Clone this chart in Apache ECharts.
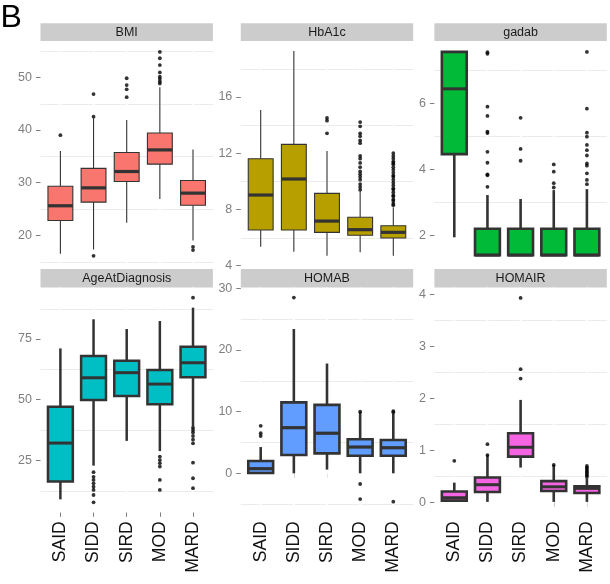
<!DOCTYPE html>
<html><head><meta charset="utf-8">
<script src="https://cdn.jsdelivr.net/npm/echarts@6/dist/echarts.min.js"></script>
<style>html,body{margin:0;padding:0;background:#fff}#c{width:610px;height:584px}</style>
</head><body><div id="c"></div><script>
const categories = ['SAID','SIDD','SIRD','MOD','MARD'];
const panelTitles = ['BMI','HbA1c','gadab','AgeAtDiagnosis','HOMAB','HOMAIR'];
const fillColors = ['#F8766D','#B79F00','#00BA38','#00BFC4','#619CFF','#F564E3'];

// box stats per category: [lower whisker, Q1, median, Q3, upper whisker]
const bmiBox = [[16.5,22.8,25.6,29.3,36.0],[17.3,26.3,29.0,32.7,42.2],[22.4,30.2,32.1,35.7,41.9],[26.9,33.5,36.2,39.4,48.1],[19.0,25.7,28.0,30.4,36.3]];
const bmiOut = [[39.0],[46.8,42.5,16.1],[49.8,48.5,47.7,46.2],[54.8,53.6,52.3,50.9,50.1,49.7,49.2,48.8],[17.8,17.2]];

const hba1cBox = [[5.35,6.54,9.02,11.6,15.06],[5.0,6.54,10.16,12.62,19.25],[4.71,6.37,7.17,9.14,12.15],[4.95,6.16,6.56,7.44,9.33],[4.71,5.97,6.37,6.84,8.15]];
const hba1cOut = [[],[],[14.5,14.3,13.4],[14.2,13.9,13.4,13.2,12.9,12.7,11.8,11.6,11.3,11.0,10.7,10.5,10.3,10.1,9.8,9.6,9.4],[12.0,11.8,11.6,11.4,11.3,11.2,11.0,10.8,10.6,10.4,10.3,10.1,9.9,9.7,9.5,9.4,9.2,9.0,8.9,8.7,8.6,8.4,8.3]];

const gadabBox = [[1.94,4.46,6.44,7.56,7.56],[1.40,1.40,1.40,2.20,3.22],[1.40,1.40,1.40,2.20,3.10],[1.40,1.40,1.40,2.20,3.37],[1.40,1.40,1.40,2.20,3.40]];
const gadabOut = [[],[7.55,7.5,5.9,5.62,5.14,5.1,4.53,4.2,3.85,3.82,3.47],[5.56,4.62,4.26],[4.15,3.93,3.58,3.45],[7.56,5.84,5.11,4.99,4.74,4.58,4.42,4.18,4.11,3.88,3.68,3.55]];

const ageBox = [[8.9,16.3,32.1,47.1,71.1],[22.8,49.8,59.0,68.0,83.1],[33.0,51.5,61.1,66.0,79.1],[28.8,48.1,56.4,62.2,82.4],[39.1,59.2,65.2,71.8,87.9]];
const ageOut = [[],[20.1,18.2,16.9,15.5,14.1,12.8,10.7,7.7],[],[26.5,25.1,23.8,22.4,16.9,12.8],[92.0,38.5,37.5,36.5,35.0,33.5,32.0,24.0,17.6,13.5]];

const homabBox = [[0,0.05,0.75,2.0,4.26],[0,2.97,7.4,11.5,23.4],[0.6,3.24,6.5,11.1,17.8],[0,2.86,4.26,5.53,10.0],[0,2.86,4.15,5.4,9.7]];
const homabOut = [[7.7,6.5,6.05],[28.5],[],[10.0,-1.73,-4.17],[10.1,9.9,-4.6]];

const homairBox = [[0.01,0.035,0.09,0.21,0.38],[0.01,0.2,0.34,0.48,0.91],[0.67,0.88,1.06,1.33,1.97],[0.01,0.22,0.30,0.41,0.72],[0.01,0.18,0.27,0.31,0.46]];
const homairOut = [[0.8],[1.12,0.91],[3.93,2.56,2.38],[0.72],[0.70,0.67,0.64,0.61,0.58,0.55,0.52,0.49]];

const boxes = [bmiBox, hba1cBox, gadabBox, ageBox, homabBox, homairBox];
const outliers = [bmiOut, hba1cOut, gadabOut, ageOut, homabOut, homairOut];

// axis limits and tick labels
const yMin = [14.17, 3.98, 1.07, 3.57, -6.32, -0.19];
const yMax = [56.87, 19.96, 7.89, 96.2, 30.13, 4.13];
const yTicks = [[20,30,40,50],[4,8,12,16],[2,4,6],[25,50,75],[0,10,20,30],[0,1,2,3,4]];
const yMinor = [[15,25,35,45,55],[6,10,14,18],[3,5,7],[12.5,37.5,62.5,87.5],[-5,5,15,25],[0.5,1.5,2.5,3.5]];
const xTicks = [1,2,3,4,5];

// layout / style
const panelLeft = [40.5, 240.8, 434.4];
const panelWidth = 172.4;
const rowTop = [41, 287.5];
const rowHeight = [225, 224.8];
const stripTop = [23.3, 269];
const stripH = [17.7, 18.5];
const borderW = [1.1, 1.1, 2.6, 2.5, 2.6, 2.6];
const medianW = [3.2, 3.2, 3, 3, 3.2, 3];
const FONT = 'Liberation Sans, Arial, sans-serif';

const grids = [], xAxes = [], yAxes = [], series = [], graphics = [];
graphics.push({type:'text', x:0.5, y:18, style:{text:'B', fontSize:32, fontFamily:FONT, fill:'#000', verticalAlign:'middle'}});

for (let i = 0; i < 6; i++) {
  const col = i % 3, row = Math.floor(i / 3);
  grids.push({left: panelLeft[col], top: rowTop[row], width: panelWidth, height: rowHeight[row]});
  xAxes.push({
    gridIndex: i, type: 'value', min: 0.4, max: 5.6,
    axisLine: {show: false}, splitLine: {show: false},
    axisTick: {show: row === 1, customValues: xTicks, length: 4.5, lineStyle: {color: '#7f7f7f'}},
    axisLabel: {show: row === 1, customValues: xTicks, rotate: 90, margin: 9, fontSize: 17.5, color: '#111', fontFamily: FONT,
      formatter: v => categories[Math.round(v) - 1]}
  });
  yAxes.push({
    gridIndex: i, type: 'value', min: yMin[i], max: yMax[i],
    axisLine: {show: false}, splitLine: {show: false},
    axisTick: {show: true, customValues: yTicks[i], length: 4.5, lineStyle: {color: '#7f7f7f'}},
    axisLabel: {customValues: yTicks[i], margin: 8.5, fontSize: 12.5, color: '#7f7f7f', fontFamily: FONT}
  });
  // strip
  graphics.push({type:'rect', shape:{x: panelLeft[col], y: stripTop[row], width: panelWidth, height: stripH[row]}, style:{fill:'#CCCCCC'}});
  graphics.push({type:'text', x: panelLeft[col] + panelWidth / 2, y: stripTop[row] + stripH[row] / 2 + 0.5,
    style:{text: panelTitles[i], fontSize: 12.5, fontFamily: FONT, fill: '#1a1a1a', align:'center', verticalAlign:'middle'}});

  // horizontal minor gridlines
  series.push({
    type: 'custom', xAxisIndex: i, yAxisIndex: i, z: 1, silent: true,
    data: yMinor[i].map(v => [v]), encode: {y: 0},
    renderItem: (params, api) => {
      const cs = params.coordSys;
      const y = Math.round(api.coord([1, api.value(0)])[1]) + 0.5;
      return {type: 'line', shape: {x1: cs.x, y1: y, x2: cs.x + cs.width, y2: y}, style: {stroke: '#EBEBEB', lineWidth: 1}};
    }
  });
  // white vertical major gridlines
  series.push({
    type: 'custom', xAxisIndex: i, yAxisIndex: i, z: 1, silent: true,
    data: xTicks.map(v => [v]), encode: {x: 0},
    renderItem: (params, api) => {
      const cs = params.coordSys;
      const x = api.coord([api.value(0), yMin[i]])[0];
      return {type: 'line', z2: 5, shape: {x1: x, y1: cs.y, x2: x, y2: cs.y + cs.height}, style: {stroke: '#FFFFFF', lineWidth: 1.6}};
    }
  });
  // boxes
  const bw = borderW[i], mw = medianW[i], fill = fillColors[i];
  series.push({
    type: 'custom', xAxisIndex: i, yAxisIndex: i, z: 2, silent: true,
    data: boxes[i].map((s, k) => [k + 1].concat(s)),
    encode: {x: 0, y: [1, 2, 3, 4, 5]},
    renderItem: (params, api) => {
      const x = api.value(0);
      const lo = api.coord([x, api.value(1)]);
      const q1 = api.coord([x, api.value(2)]);
      const md = api.coord([x, api.value(3)]);
      const q3 = api.coord([x, api.value(4)]);
      const hi = api.coord([x, api.value(5)]);
      const half = api.size([0.75, 0])[0] / 2;
      const st = {stroke: '#333333', lineWidth: bw};
      return {type: 'group', children: [
        {type: 'line', shape: {x1: lo[0], y1: lo[1], x2: q1[0], y2: q1[1]}, style: st},
        {type: 'line', shape: {x1: hi[0], y1: hi[1], x2: q3[0], y2: q3[1]}, style: st},
        {type: 'rect', shape: {x: q3[0] - half, y: q3[1], width: 2 * half, height: q1[1] - q3[1]}, style: {fill: fill, stroke: '#333333', lineWidth: bw}},
        {type: 'line', shape: {x1: md[0] - half, y1: md[1], x2: md[0] + half, y2: md[1]}, style: {stroke: '#333333', lineWidth: mw}}
      ]};
    }
  });
  // outliers
  const pts = [];
  outliers[i].forEach((arr, k) => arr.forEach(v => pts.push([k + 1, v])));
  series.push({
    type: 'scatter', xAxisIndex: i, yAxisIndex: i, z: 3, silent: true,
    data: pts, symbol: 'circle', symbolSize: 3.8, itemStyle: {color: '#000'}
  });
}

const chart = echarts.init(document.getElementById('c'), null, {renderer: 'canvas'});
chart.setOption({
  animation: false, backgroundColor: '#ffffff',
  textStyle: {fontFamily: FONT},
  grid: grids, xAxis: xAxes, yAxis: yAxes, series: series, graphic: graphics
});
</script></body></html>
